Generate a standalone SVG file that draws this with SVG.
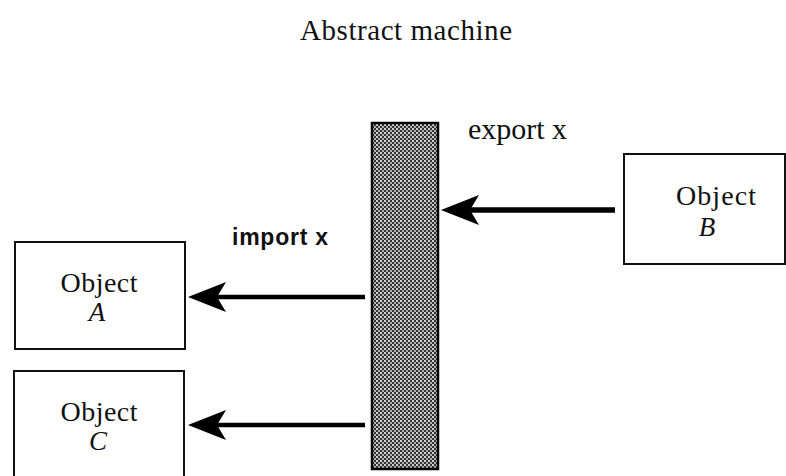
<svg xmlns="http://www.w3.org/2000/svg" width="786" height="476" viewBox="0 0 786 476">
<style>
.box{fill:#fff;stroke:#111;stroke-width:2}
.obj{font-family:"Liberation Serif",serif;font-size:28px;fill:#111;text-anchor:middle}
.var{font-family:"Liberation Serif",serif;font-size:27px;font-style:italic;fill:#111;text-anchor:middle}
.arr{stroke:#000;fill:none;marker-end:url(#head)}
</style>
<defs>
<pattern id="dots" width="4" height="4" patternUnits="userSpaceOnUse">
<rect width="4" height="4" fill="#333"/>
<rect x="0" y="0" width="2" height="2" fill="#d0d0d0"/>
<rect x="2" y="2" width="2" height="2" fill="#b0b0b0"/>
</pattern>
<marker id="head" markerUnits="userSpaceOnUse" markerWidth="40" markerHeight="32" viewBox="0 0 40 32" refX="28" refY="16" orient="auto">
<path d="M0,1 L38,16 L0,31 L9,16 Z" fill="#000"/>
</marker>
</defs>
<rect width="786" height="476" fill="#fff"/>
<text x="406" y="40" font-family="Liberation Serif,serif" font-size="29" text-anchor="middle" textLength="212" fill="#111">Abstract machine</text>
<g id="machine">
<rect x="372" y="123" width="66" height="346" fill="url(#dots)" stroke="#000" stroke-width="2.5"/>
</g>
<g id="objectA">
<rect class="box" x="15" y="242" width="170" height="107"/>
<text class="obj" x="99" y="292" textLength="77">Object</text>
<text class="var" x="97" y="321">A</text>
</g>
<g id="objectC">
<path class="box" d="M14,476 V371 H184 V476"/>
<text class="obj" x="99" y="421" textLength="77">Object</text>
<text class="var" x="98" y="450">C</text>
</g>
<g id="objectB">
<rect class="box" x="624" y="154" width="161" height="110"/>
<text class="obj" x="716" y="205" textLength="80">Object</text>
<text class="var" x="707" y="236">B</text>
</g>
<g id="labels">
<text x="468" y="139" font-family="Liberation Serif,serif" font-size="30" textLength="99" fill="#111">export x</text>
<text x="232" y="245" font-family="Liberation Sans,sans-serif" font-size="23" font-weight="bold" textLength="96" fill="#111">import x</text>
</g>
<g id="connectors">
<line class="arr" x1="615" y1="210" x2="451" y2="210" stroke-width="5.5"/>
<line class="arr" x1="365" y1="297" x2="198" y2="297" stroke-width="4.5"/>
<line class="arr" x1="365" y1="425" x2="198" y2="425" stroke-width="4.5"/>
</g>
</svg>
